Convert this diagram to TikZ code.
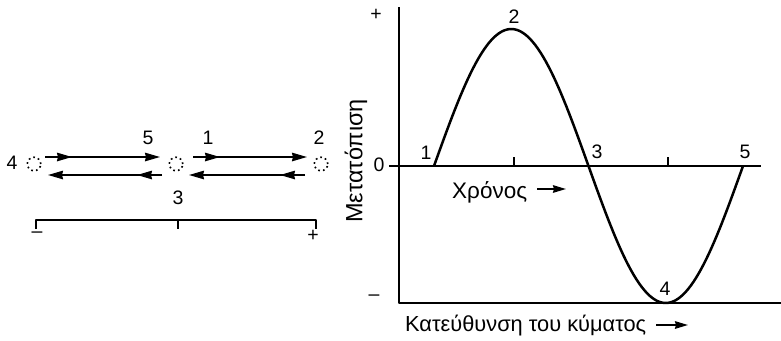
\documentclass[tikz,border=0pt]{standalone}
\usepackage{fontspec}
\setmainfont{Liberation Sans}
\usetikzlibrary{arrows.meta,decorations.markings}
\begin{document}
\begin{tikzpicture}[x=1bp,y=-1bp,line join=round]
\useasboundingbox (0,0) rectangle (781,340);
\tikzset{
  num/.style={font=\fontsize{19.5bp}{22bp}\selectfont,inner sep=0pt},
  lbl/.style={font=\fontsize{22.5bp}{26bp}\selectfont,inner sep=0pt},
  ax/.style={line width=1.8bp},
  mv/.style={line width=1.8bp},
  bigtip/.tip={Stealth[length=15bp,width=8.5bp,inset=1bp]},
  smalltip/.tip={Stealth[length=13bp,width=7.5bp,inset=1bp]},
  dualarrow/.style={mv,-bigtip,postaction={decorate},
    decoration={markings,mark=at position #1 with {\arrow{bigtip}}}},
  ptcircle/.style={circle,draw,inner sep=0pt,minimum size=13.5bp,line width=1.6bp,
    dash pattern=on 1.7bp off 3.1bp},
}
% ---------- left part ----------
\node[ptcircle] (c1) at (34,164) {};
\node[ptcircle] (c2) at (176,164) {};
\node[ptcircle] (c3) at (321,164) {};
\node[num] (n4) at (12,163) {4};
\node[num] (n5) at (148,138) {5};
\node[num] (n1) at (208,138) {1};
\node[num] (n2) at (319,138) {2};
\node[num] (n3) at (178,198) {3};
\coordinate (t1s) at (45,157);  \coordinate (t1e) at (160,157);
\coordinate (t2s) at (193,157); \coordinate (t2e) at (307,157);
\coordinate (b1s) at (162,175); \coordinate (b1e) at (48,175);
\coordinate (b2s) at (305,175); \coordinate (b2e) at (189,175);
\draw[dualarrow=27bp] (t1s) -- (t1e);
\draw[dualarrow=27bp] (t2s) -- (t2e);
\draw[dualarrow=25bp] (b1s) -- (b1e);
\draw[dualarrow=25bp] (b2s) -- (b2e);
\coordinate (sL) at (36,220); \coordinate (sM) at (178,220); \coordinate (sR) at (316,220);
\draw[ax] ([yshift=-9bp]sL) -- (sL) -- (sR) -- ([yshift=-9bp]sR);
\draw[ax] (sM) -- ([yshift=-9bp]sM);
\node[num] (mL) at (37,235) {–};
\node[num] (pR) at (313,236) {+};
% ---------- right part ----------
\coordinate (ytop) at (399,7);
\coordinate (orig) at (399,303);
\coordinate (xend) at (781,303);
\draw[ax] (ytop) -- (orig) -- (xend);
\coordinate (zl) at (389,166); \coordinate (zr) at (761,166);
\draw[ax] (zl) -- (zr);
\draw[ax] (514,166) -- (514,157);
\draw[ax] (668,166) -- (668,157);
\draw[line width=2.5bp] plot[domain=0:360,samples=120] ({434+\x*0.858333},{166-137*sin(\x)});
\node[num] (yp) at (376,15) {+};
\node[num] (y0) at (379,165) {0};
\node[num] (ym) at (374,298) {–};
\node[num] (g1) at (426,153) {1};
\node[num] (g2) at (514,17) {2};
\node[num] (g3) at (597,152) {3};
\node[num] (g4) at (665,289) {4};
\node[num] (g5) at (745,152) {5};
\node[lbl,rotate=90,font=\fontsize{23.5bp}{26bp}\selectfont] (ylab) at (356,161) {Μετατόπιση};
\node[lbl,anchor=west] (time) at (452,192) {Χρόνος};
\coordinate (ta) at (537,189); \coordinate (tb) at (566,189);
\draw[mv,-smalltip] (ta) -- (tb);
\node[lbl,anchor=west,font=\fontsize{21.8bp}{26bp}\selectfont] (dir) at (405,326) {Κατεύθυνση του κύματος};
\coordinate (da) at (656,325); \coordinate (db) at (688,325);
\draw[mv,-smalltip] (da) -- (db);
\end{tikzpicture}
\end{document}
